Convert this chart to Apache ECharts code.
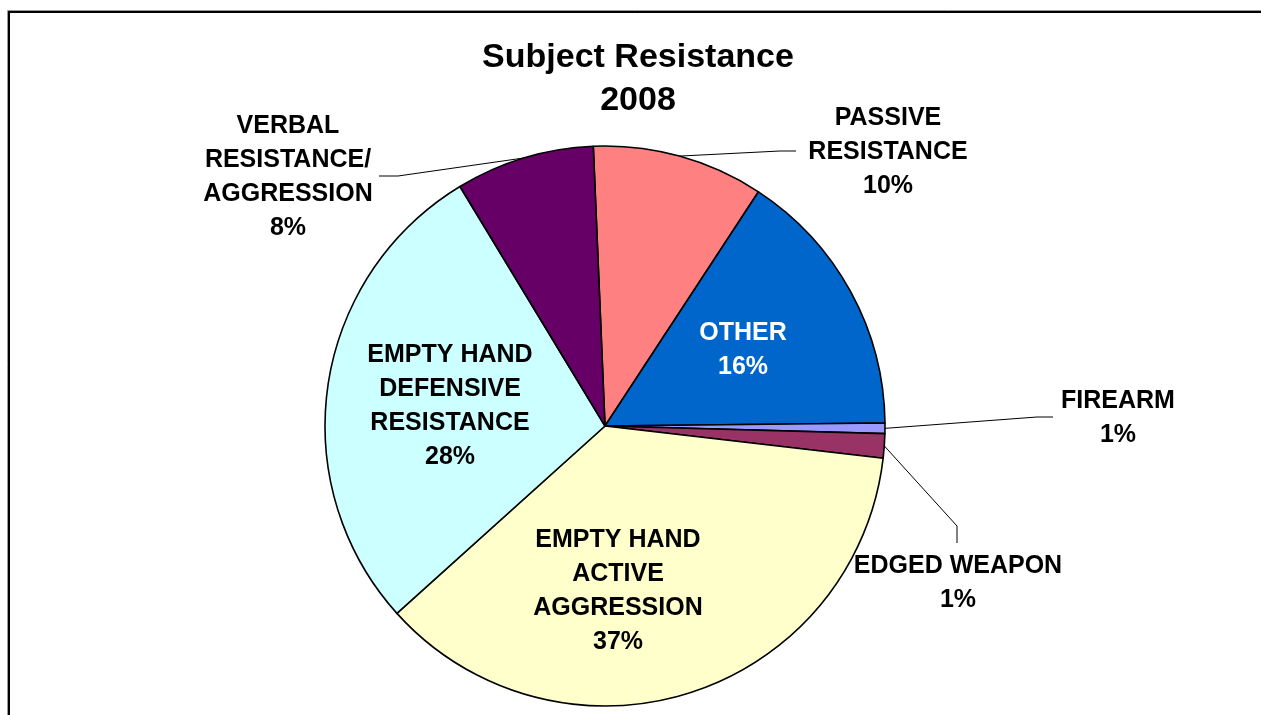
<!DOCTYPE html>
<html>
<head>
<meta charset="utf-8">
<script src="https://cdn.jsdelivr.net/npm/echarts@6/dist/echarts.min.js"></script>
<style>
  html, body { margin: 0; padding: 0; background: #fff; }
  #chart { width: 1261px; height: 715px; }
</style>
</head>
<body>
<div id="chart"></div>
<script>
// Data (clockwise from the top)
const categories = [
  'PASSIVE\nRESISTANCE',
  'OTHER',
  'FIREARM',
  'EDGED WEAPON',
  'EMPTY HAND\nACTIVE\nAGGRESSION',
  'EMPTY HAND\nDEFENSIVE\nRESISTANCE',
  'VERBAL\nRESISTANCE/\nAGGRESSION'
];
const values = [9.9, 15.6, 0.6, 1.4, 36.5, 28.0, 8.0];
const titleLines = ['Subject Resistance', '2008'];

// Styles
const colors = ['#FF8080', '#0066CC', '#9999FF', '#993366', '#FFFFCC', '#CCFFFF', '#660066'];
const insideIdx = [1, 4, 5];
const labelColors = ['#000', '#fff', '#000', '#000', '#000', '#000', '#000'];
// Label placement (text centers) and leader-line bends
const labelPlace = [
  { x: 888, y: 152, line: [[780, 151], [796, 151]] },
  { x: 743, y: 350 },
  { x: 1118, y: 418, line: [[1037, 417], [1053, 417]] },
  { x: 958, y: 583, line: [[957, 526], [957, 543]] },
  { x: 618, y: 591 },
  { x: 450, y: 406 },
  { x: 288, y: 177, line: [[398, 176], [379, 176]] }
];

const FONT = "'Liberation Sans', Arial, sans-serif";

const chart = echarts.init(document.getElementById('chart'), null, { renderer: 'canvas' });

const data = categories.map((name, i) => {
  const inside = insideIdx.indexOf(i) >= 0;
  return {
    name: name,
    value: values[i],
    itemStyle: { color: colors[i] },
    label: { position: inside ? 'inside' : 'outside', color: labelColors[i] },
    labelLine: { show: !inside }
  };
});

chart.setOption({
  animation: false,
  backgroundColor: '#fff',
  graphic: [
    {
      type: 'rect',
      silent: true,
      shape: { x: 7.5, y: 10.5, width: 1400, height: 900 },
      style: { fill: 'none', stroke: '#999', lineWidth: 1 },
      z: 0
    },
    {
      type: 'rect',
      silent: true,
      shape: { x: 9, y: 12, width: 1400, height: 900 },
      style: { fill: 'none', stroke: '#000', lineWidth: 2 },
      z: 1
    },
    {
      type: 'text',
      silent: true,
      x: 638,
      y: 36,
      style: {
        text: titleLines.join('\n'),
        align: 'center',
        verticalAlign: 'top',
        font: "bold 34px " + FONT,
        lineHeight: 43,
        fill: '#000'
      },
      z: 10
    }
  ],
  series: [{
    type: 'pie',
    center: [605, 426],
    radius: 280,
    startAngle: 92.4,
    clockwise: true,
    avoidLabelOverlap: false,
    silent: true,
    emphasis: { disabled: true },
    itemStyle: { borderColor: '#000', borderWidth: 1.6 },
    label: {
      show: true,
      fontFamily: FONT,
      fontWeight: 'bold',
      fontSize: 25,
      lineHeight: 34,
      align: 'center',
      formatter: (p) => p.name + '\n' + Math.round(p.value) + '%'
    },
    labelLine: {
      show: true,
      smooth: false,
      length: 20,
      length2: 20,
      lineStyle: { color: '#000', width: 1 }
    },
    labelLayout: function (params) {
      const place = labelPlace[params.dataIndex];
      const out = { x: place.x, y: place.y, align: 'center', verticalAlign: 'middle' };
      if (place.line && params.labelLinePoints && params.labelLinePoints.length) {
        out.labelLinePoints = [params.labelLinePoints[0]].concat(place.line);
      }
      return out;
    },
    data: data
  }]
});
</script>
</body>
</html>
